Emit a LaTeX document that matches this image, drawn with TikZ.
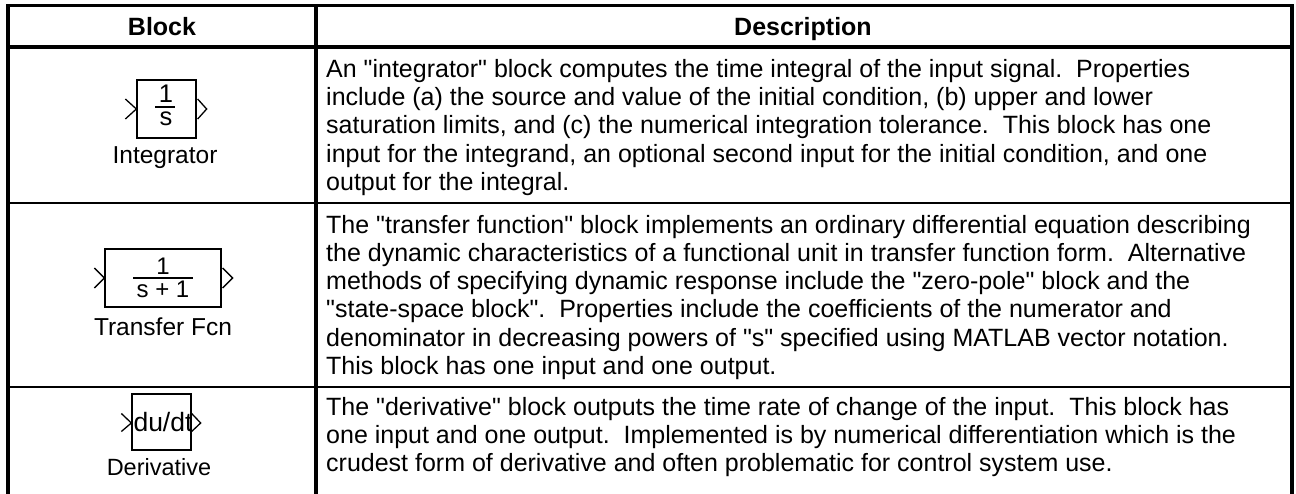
\documentclass[tikz,border=0pt]{standalone}
\usepackage{fontspec}
\setmainfont{Liberation Sans}
\newfontfamily\lsans{Liberation Sans}
\newcommand{\dq}{"}
\tikzset{
  thickrule/.style={line width=3.6pt, line cap=rect},
  thinrule/.style={line width=2.5pt},
  blockbox/.style={draw, line width=1.3pt, inner sep=0pt, rectangle},
  port/.style={line width=1.3pt, line join=miter},
  fracbar/.style={line width=1.6pt},
  desc/.style={anchor=north west, inner sep=0pt, align=left, font=\lsans\fontsize{25}{28.25}\selectfont},
  lbl/.style={anchor=base, inner sep=0pt, font=\lsans\fontsize{24.5}{28}\selectfont},
  inblk/.style={anchor=base, inner sep=0pt, font=\lsans\fontsize{25.5}{28}\selectfont},
  head/.style={anchor=base, inner sep=0pt, font=\lsans\bfseries\fontsize{25}{28}\selectfont},
}
\begin{document}
\begin{tikzpicture}[x=1pt,y=-1pt]
\useasboundingbox (0,0) rectangle (1296,493);
\fill[white] (0,0) rectangle (1296,493);

% table rules
\draw[thickrule] (8,493) -- (8,5.3) -- (1292,5.3) -- (1292,493);
\draw[thickrule] (8,47) -- (1292,47);
\draw[thickrule] (316,5.3) -- (316,493);
\draw[thinrule] (8,203) -- (1292,203);
\draw[thinrule] (8,387) -- (1292,387);

% header
\node[head] (hblock) at (162,35) {Block};
\node[head] (hdesc) at (803,35) {Description};

% Integrator
\node[blockbox, minimum width=59pt, minimum height=58pt] (int) at (166.5,109) {};
\draw[port] ([shift={(-11,-10)}]int.west) -- (int.west) -- ([shift={(-11,10)}]int.west);
\draw[port] ([shift={(1,-10)}]int.east) -- ([shift={(10,0)}]int.east) -- ([shift={(1,10)}]int.east);
\node[inblk] (intnum) at (166,102) {1};
\node[inblk] (intden) at (166,125.5) {s};
\draw[fracbar] (155,107) -- (175,107);
\node[lbl] (intlbl) at (165,163.3) {Integrator};

% Transfer Fcn
\node[blockbox, minimum width=116pt, minimum height=58pt] (tf) at (163,278) {};
\draw[port] ([shift={(-10,-10)}]tf.west) -- (tf.west) -- ([shift={(-10,10)}]tf.west);
\draw[port] ([shift={(1,-10)}]tf.east) -- ([shift={(11,0)}]tf.east) -- ([shift={(1,10)}]tf.east);
\node[inblk, font=\lsans\fontsize{24}{26}\selectfont] (tfnum) at (163,274.5) {1};
\node[inblk, font=\lsans\fontsize{24}{26}\selectfont] (tfden) at (163,297) {s + 1};
\draw[fracbar] (133.3,277.7) -- (193.3,277.7);
\node[lbl] (tflbl) at (163,335) {Transfer Fcn};

% Derivative
\node[blockbox, minimum width=59pt, minimum height=56pt] (der) at (161.5,422) {};
\draw[port] ([shift={(-10,-8.5)}]der.west) -- ([shift={(0,1)}]der.west) -- ([shift={(-10,9.5)}]der.west);
\draw[port] ([shift={(0,-8.5)}]der.east) -- ([shift={(9,1)}]der.east) -- ([shift={(0,9.5)}]der.east);
\node[inblk, font=\lsans\fontsize{26.5}{28}\selectfont] (dert) at (163,431) {du/dt};
\node[lbl, font=\lsans\fontsize{23.5}{28}\selectfont] (derlbl) at (159,475.5) {Derivative};

% descriptions
\node[desc] (d1) at (326,57.5) {\strut An \dq{}integrator\dq{} block computes the time integral of the input signal.\ \ Properties\\
include (a) the source and value of the initial condition, (b) upper and lower\\
saturation limits, and (c) the numerical integration tolerance.\ \ This block has one\\
input for the integrand, an optional second input for the initial condition, and one\\
output for the integral.};

\node[desc] (d2) at (326,213.2) {\strut The \dq{}transfer function\dq{} block implements an ordinary differential equation describing\\
the dynamic characteristics of a functional unit in transfer function form.\ \ Alternative\\
methods of specifying dynamic response include the \dq{}zero-pole\dq{} block and the\\
\dq{}state-space block\dq{}.\ \ Properties include the coefficients of the numerator and\\
denominator in decreasing powers of \dq{}s\dq{} specified using MATLAB vector notation.\\
This block has one input and one output.};

\node[desc] (d3) at (326,395.2) {\strut The \dq{}derivative\dq{} block outputs the time rate of change of the input.\ \ This block has\\
one input and one output.\ \ Implemented is by numerical differentiation which is the\\
crudest form of derivative and often problematic for control system use.};
\end{tikzpicture}
\end{document}
